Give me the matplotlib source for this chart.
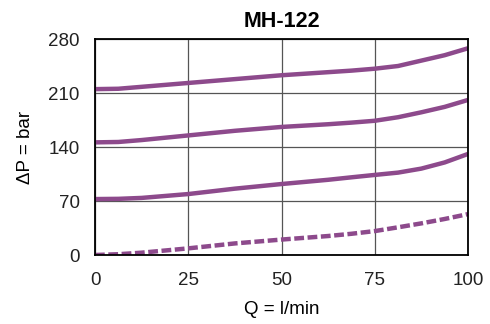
import matplotlib
matplotlib.use("Agg")
from matplotlib import pyplot as plt

# flow (l/min) and pressure drop (bar)
q = [0, 6.25, 12.5, 25, 37.5, 50, 62.5, 68.75, 75, 81.25, 87.5, 93.75, 100]
dp_high = [215, 215.5, 218, 223, 228, 233, 237, 239, 241.5, 245, 252, 259, 268]
dp_mid = [146, 146.5, 149, 155, 161, 166, 169.5, 171.6, 174, 178.6, 185, 192, 201]
dp_low = [72.5, 72.8, 74, 79, 86, 92, 97.5, 100.7, 103.8, 106.8, 112, 120, 131]
dp_free = [0, 1, 3, 8.6, 15, 20, 24.6, 27.5, 31, 35.9, 41, 46.7, 53]

x_ticks = [0, 25, 50, 75, 100]
y_ticks = [0, 70, 140, 210, 280]

plt.rcParams['font.family'] = ['Liberation Sans', 'DejaVu Sans']
purple = '#8d4a8c'

fig = plt.figure(figsize=(4.9, 3.24), dpi=100)
ax = fig.add_axes([95 / 490, 1 - 255 / 324, 373 / 490, 216 / 324])

for dp in (dp_high, dp_mid, dp_low):
    ax.plot(q, dp, color=purple, lw=3.2, solid_capstyle='butt', solid_joinstyle='round')
ax.plot(q, dp_free, color=purple, lw=3.2, ls=(0, (2.2, 0.8)), dash_capstyle='butt')

ax.set_xlim(0, 100)
ax.set_ylim(0, 280)
ax.set_xticks(x_ticks)
ax.set_yticks(y_ticks)
ax.grid(color='#555555', lw=0.9)
ax.set_axisbelow(True)
for s in ax.spines.values():
    s.set_linewidth(1.3)
    s.set_color('black')
ax.tick_params(length=0, labelsize=13.5, colors='#222222')
ax.tick_params(axis='y', pad=11)
ax.tick_params(axis='x', pad=12)

ax.set_title('MH-122', fontsize=15.5, fontweight='bold', pad=9)
ax.set_xlabel('Q = l/min', fontsize=13.5, labelpad=9)
ax.set_ylabel('ΔP = bar', fontsize=13.5, labelpad=10)

fig.savefig('out.png', dpi=100)
